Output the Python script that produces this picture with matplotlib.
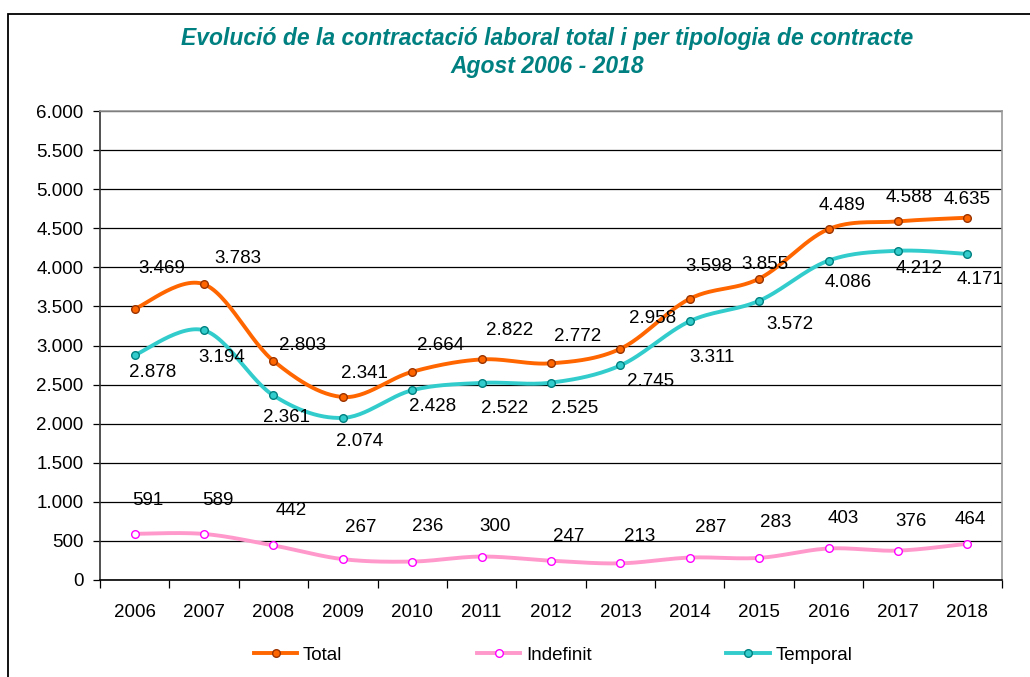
import numpy as np
import matplotlib
matplotlib.use("Agg")
import matplotlib.pyplot as plt
from matplotlib.lines import Line2D
from matplotlib.patches import Rectangle
from matplotlib.ticker import FuncFormatter, MultipleLocator, FixedLocator

plt.rcParams['font.family'] = ['Liberation Sans', 'DejaVu Sans']

years = ['2006', '2007', '2008', '2009', '2010', '2011', '2012',
         '2013', '2014', '2015', '2016', '2017', '2018']
total = [3469, 3783, 2803, 2341, 2664, 2822, 2772, 2958, 3598, 3855, 4489, 4588, 4635]
indefinit = [591, 589, 442, 267, 236, 300, 247, 213, 287, 283, 403, 376, 464]
temporal = [2878, 3194, 2361, 2074, 2428, 2522, 2525, 2745, 3311, 3572, 4086, 4212, 4171]

# label offsets (pixels) relative to each point
total_off = [(27, 40), (34, 26), (29, 15), (22, 24), (28, 26), (28, 29), (27, 27),
             (32, 30), (19, 32), (6, 14), (14, 24), (11, 24), (0, 18)]
temporal_off = [(18, -17), (18, -27), (13, -22), (17, -24), (20, -16), (23, -26), (24, -26),
                (30, -16), (22, -36), (31, -24), (20, -22), (21, -18), (13, -26)]
indef_off = [(13, 33), (14, 33), (18, 35), (18, 32), (15, 35), (13, 30), (18, 24),
             (19, 27), (21, 30), (17, 35), (15, 30), (13, 29), (3, 24)]


def smooth(xs, ys, n=30):
    xs = np.asarray(xs, float)
    ys = np.asarray(ys, float)
    P = np.column_stack([xs, ys])
    out = []
    m = len(P)
    for i in range(m - 1):
        p0 = P[i - 1] if i > 0 else P[i]
        p1 = P[i]
        p2 = P[i + 1]
        p3 = P[i + 2] if i + 2 < m else P[i + 1]
        c1 = p1 + (p2 - p0) / 6.0
        c2 = p2 - (p3 - p1) / 6.0
        t = np.linspace(0, 1, n)[:, None]
        seg = ((1 - t) ** 3) * p1 + 3 * ((1 - t) ** 2) * t * c1 + 3 * (1 - t) * t ** 2 * c2 + t ** 3 * p2
        out.append(seg if i == 0 else seg[1:])
    seg = np.vstack(out)
    return seg[:, 0], seg[:, 1]


fig = plt.figure(figsize=(10.30, 6.77), dpi=100)
ax = fig.add_axes([100 / 1030, 1 - 580 / 677, 902 / 1030, 469 / 677])

x = np.arange(len(years))

series = [
    (total, '#FF6600', '#993300', '#FF6600', total_off, 'Total'),
    (indefinit, '#FF99CC', '#FF00FF', 'white', indef_off, 'Indefinit'),
    (temporal, '#33CCCC', '#008080', '#33CCCC', temporal_off, 'Temporal'),
]

handles = []
for vals, lc, mec, mfc, offs, name in series:
    sx, sy = smooth(x, vals)
    ax.plot(sx, sy, color=lc, lw=2.8, solid_capstyle='round', zorder=3)
    ax.plot(x, vals, ls='none', marker='o', ms=5.5, mec=mec, mfc=mfc, mew=1.0, zorder=4)
    for xi, v, (dx, dy) in zip(x, vals, offs):
        ax.annotate(f"{v:,}".replace(',', '.'), (xi, v), xytext=(dx, dy),
                    textcoords='offset pixels', ha='center', va='center',
                    fontsize=13.5, color='black', zorder=5)
    handles.append(Line2D([0], [0], color=lc, lw=2.8, marker='o', ms=5.5,
                          mec=mec, mfc=mfc, mew=1.0, label=name))

ax.set_xlim(-0.5, len(years) - 0.5)
ax.set_ylim(0, 6000)
ax.yaxis.set_major_locator(MultipleLocator(500))
ax.yaxis.set_major_formatter(FuncFormatter(lambda v, p: f"{int(v):,}".replace(',', '.')))
ax.grid(axis='y', color='black', lw=0.9, zorder=1)
ax.set_axisbelow(True)

ax.set_xticks(x)
ax.set_xticklabels(years)
ax.xaxis.set_minor_locator(FixedLocator(np.arange(-0.5, len(years), 1.0)))
ax.tick_params(axis='x', which='major', length=0, pad=17, labelsize=13.5)
ax.tick_params(axis='x', which='minor', length=6, width=0.9, direction='out', color='black')
ax.tick_params(axis='y', which='major', length=5, width=0.9, direction='out', pad=7, labelsize=13.5)

for s in ['top', 'right']:
    ax.spines[s].set_color('#999999')
    ax.spines[s].set_linewidth(1.2)
ax.spines['left'].set_color('#333333')
ax.spines['bottom'].set_color('black')
ax.spines['left'].set_linewidth(1.2)
ax.spines['bottom'].set_linewidth(1.2)

fig.text(547 / 1030, 1 - 38 / 677, 'Evolució de la contractació laboral total i per tipologia de contracte',
         ha='center', va='center', fontsize=16.5, fontweight='bold', fontstyle='italic', color='#008080')
fig.text(547 / 1030, 1 - 67 / 677, 'Agost 2006 - 2018',
         ha='center', va='center', fontsize=16.5, fontweight='bold', fontstyle='italic', color='#008080')

fig.legend(handles=handles, loc='center', bbox_to_anchor=(553 / 1030, 1 - 655 / 677), ncol=3,
           frameon=False, fontsize=13.5, handlelength=2.3, handletextpad=0.3, columnspacing=7.2)

fig.patches.append(Rectangle((8 / 1030, -0.1), 1.2, 1 - 14 / 677 + 0.1, transform=fig.transFigure,
                             fill=False, edgecolor='black', lw=1.3))

fig.savefig('out.png', dpi=100)
